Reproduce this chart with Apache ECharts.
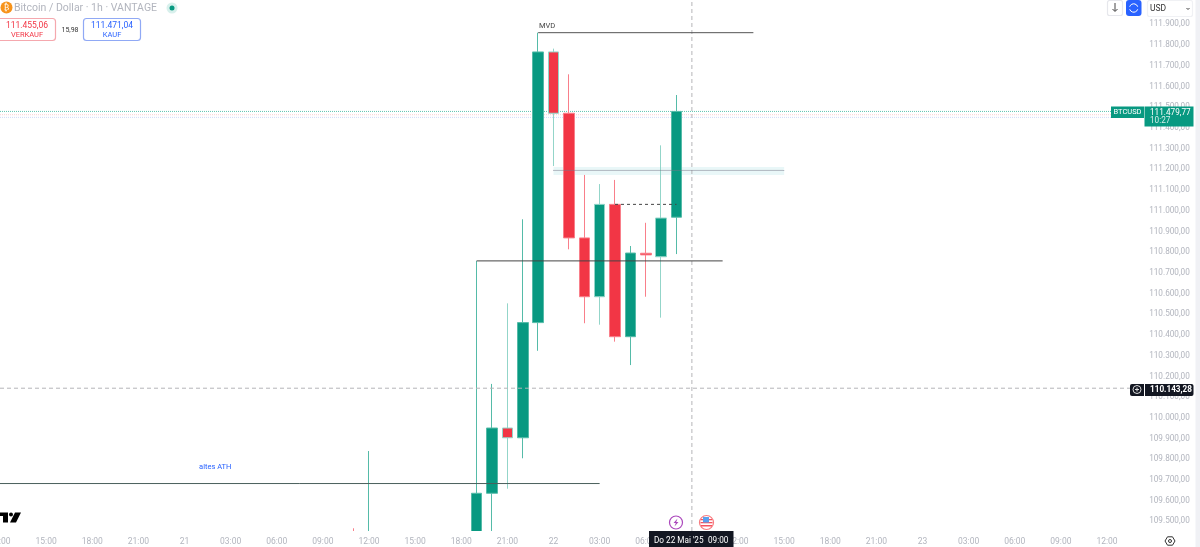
<!DOCTYPE html>
<html>
<head>
<meta charset="utf-8">
<style>html,body{margin:0;padding:0;background:#fff}#c{width:1200px;height:547px}</style>
<script src="https://cdn.jsdelivr.net/npm/echarts@6/dist/echarts.min.js"></script>
</head>
<body>
<div id="c"></div>
<script>
const hours = [
 '12:00','13:00','14:00','15:00','16:00','17:00','18:00','19:00','20:00','21:00','22:00','23:00',
 '21','01:00','02:00','03:00','04:00','05:00','06:00','07:00','08:00','09:00','10:00','11:00',
 '12:00','13:00','14:00','15:00','16:00','17:00','18:00','19:00','20:00','21:00','22:00','23:00',
 '22','01:00','02:00','03:00','04:00','05:00','06:00','07:00','08:00','09:00','10:00','11:00',
 '12:00','13:00','14:00','15:00','16:00','17:00','18:00','19:00','20:00','21:00','22:00','23:00',
 '23','01:00','02:00','03:00','04:00','05:00','06:00','07:00','08:00','09:00','10:00','11:00',
 '12:00','13:00','14:00'];
const priceTicks = [109500,109600,109700,109800,109900,110000,110100,110200,110300,110400,110500,110600,110700,110800,110900,111000,111100,111200,111300,111400,111500,111600,111700,111800,111900];

// [hour index, open, close, low, high]
const candles = [
 [23,109300,109250,109200,109467],
 [24,109000,109300,108900,109840],
 [31,109300,109636,109200,110758],
 [32,109636,109951,109400,110164],
 [33,109951,109904,109658,110553],
 [34,109904,110460,109805,110959],
 [35,110460,111767,110324,111860],
 [36,111767,111471,111216,111783],
 [37,111471,110869,110814,111659],
 [38,110869,110585,110457,111173],
 [39,110585,111031,110450,111129],
 [40,111031,110392,110368,111149],
 [41,110392,110796,110255,110830],
 [42,110795,110787,110585,110942],
 [43,110778,110965,110484,111316],
 [44,110969,111479.77,110791,111559]
];
const paleWickHours = [33,36,39,43];
const lastPrice = 111479.77, askPrice = 111464, bidPrice = 111451;
const crossPrice = 110143.28, crossHour = 45;
const mvdLine = [[35,111860],[49,111860]];
const highLine = [[31,110758],[47,110758]];
const athLine = [[0,109683],[39,109683]];
const dashLine = [[40,111031],[44,111031]];
const bandLine = [[36,111195],[51,111195]];
const bandRange = [[36,111211],[51,111173]];
const yMin = 109453.8, yMax = 112017.8;
const uiFont = 'Roboto';
const axisGrey = '#b2b5be';

const candleRows = hours.map((_, i) => {
  const c = candles.find(r => r[0] === i);
  if (!c) return '-';
  if (paleWickHours.includes(i)) {
    return {value:c.slice(1), itemStyle:{borderColor:'#93d5c9',borderColor0:'#f9b3ba'}};
  }
  return c.slice(1);
});

function seg(data, color, type, width, z, opacity){
  return {type:'line', data, symbol:'none', silent:true, animation:false, z:z||5,
    lineStyle:{color, type:type||'solid', width:width||1, opacity:opacity==null?1:opacity}};
}
function txt(x,y,text,size,fill,align,weight){
  return {type:'text', z:100, style:{x,y,text,fontSize:size,fill,fontFamily:uiFont,align:align||'left',verticalAlign:'middle',fontWeight:weight||'normal'}};
}
function box(x,y,w,h,fill,stroke,r){
  return {type:'rect', z:99, shape:{x,y,width:w,height:h,r:r||0}, style:{fill:fill,stroke:stroke||null,lineWidth:1.2}};
}
const deFmt = v => v.toLocaleString('de-DE',{minimumFractionDigits:2,maximumFractionDigits:2});

const chart = echarts.init(document.getElementById('c'),null,{renderer:'canvas'});
chart.setOption({
  animation:false,
  backgroundColor:'#fff',
  grid:{left:0,top:0,right:62.25,bottom:16,containLabel:false,outerBoundsMode:'none'},
  xAxis:{type:'category',data:hours,boundaryGap:false,z:60,
    axisLine:{show:false},axisTick:{show:false},splitLine:{show:false},
    axisLabel:{interval:i=>i%3===0,color:axisGrey,fontSize:8.5,fontFamily:uiFont,margin:6.5,hideOverlap:false,showMinLabel:true}},
  yAxis:{type:'value',position:'right',min:yMin,max:yMax,scale:true,
    axisLine:{show:false},axisTick:{show:false},splitLine:{show:false},
    axisLabel:{customValues:priceTicks,formatter:deFmt,color:axisGrey,fontSize:8.2,fontFamily:uiFont,align:'right',margin:52,padding:[3,0,0,0]}},
  series:[
    {type:'candlestick',data:candleRows,barWidth:11,clip:true,z:3,animation:false,silent:true,
      itemStyle:{color:'#089981',color0:'#F23645',borderColor:'#55bba8',borderColor0:'#f97f8a',borderWidth:1},
      emphasis:{disabled:true}},
    seg([[0,askPrice],[74,askPrice]],'#fbd0d4','dotted',1,2),
    seg([[0,bidPrice],[74,bidPrice]],'#d0daf9','dotted',1,2),
    seg([[0,lastPrice],[74,lastPrice]],'#5cc4b0','dotted',1,2),
    seg([[0,crossPrice],[74,crossPrice]],'#b5b5b8',[4,3],1,4),
    seg([[crossHour,yMin],[crossHour,yMax]],'#b5b5b8',[4,3],1,4),
    Object.assign(seg(mvdLine,'#555','solid',1,6),{
      markPoint:{symbol:'circle',symbolSize:1,itemStyle:{color:'transparent'},silent:true,animation:false,
        data:[{coord:[35,111892],label:{show:true,position:'inside',offset:[9,0],formatter:'MVD',color:'#444',fontSize:7.5,fontFamily:uiFont}}]}
    }),
    seg(highLine,'#444','solid',1,6),
    Object.assign(seg(athLine,'#4a5f5b','solid',1,6),{
      markPoint:{symbol:'circle',symbolSize:1,itemStyle:{color:'transparent'},silent:true,animation:false,
        data:[{coord:[14,109763],label:{show:true,position:'inside',formatter:'altes ATH',color:'#2962ff',fontSize:7.5,fontFamily:uiFont}}]}
    }),
    seg(dashLine,'#444',[3,3],1,6),
    Object.assign(seg(bandLine,'#778','dotted',1,7),{
      markArea:{silent:true,animation:false,itemStyle:{color:'rgba(120,205,210,0.16)'},
        data:[[{coord:bandRange[0]},{coord:bandRange[1]}]]}
    })
  ],
  graphic:[
    {type:'rect',z:50,shape:{x:0,y:531,width:1195,height:16},style:{fill:'#fff'}},
    {type:'rect',z:98,shape:{x:1195.5,y:0,width:4.5,height:547},style:{fill:'#f0f1f5'}},
    {type:'circle',z:99,shape:{cx:6.5,cy:7.5,r:6},style:{fill:'#f7931a'}},
    {type:'text',z:100,style:{x:6.5,y:8,text:'₿',fontSize:8,fill:'#fff',fontFamily:'DejaVu Sans',align:'center',verticalAlign:'middle'}},
    txt(14,8,'Bitcoin / Dollar · 1h · VANTAGE',10.5,'#b2b5be'),
    {type:'circle',z:99,shape:{cx:172,cy:8,r:5.5},style:{fill:'#d8f0ec'}},
    {type:'circle',z:100,shape:{cx:172,cy:8,r:2.5},style:{fill:'#089981'}},
    box(-3,18.5,58.5,22,'#fff','#f5a8ae',3),
    txt(27,26,'111.455,06',8.5,'#f23645','center'),
    txt(27,35,'VERKAUF',7.5,'#f23645','center'),
    txt(70,30,'15,98',7,'#333','center'),
    box(83.5,18.5,57,22,'#fff','#90a9f5',3),
    txt(112,26,'111.471,04',8.5,'#2962ff','center'),
    txt(112,35,'KAUF',7.5,'#2962ff','center'),
    box(1107.5,0.5,15,15,'#fff','#e6e7ec',2),
    {type:'polyline',z:100,shape:{points:[[1115,3],[1115,11]]},style:{stroke:'#444',lineWidth:1,fill:null}},
    {type:'polyline',z:100,shape:{points:[[1112.5,9],[1115,11.5],[1117.5,9]]},style:{stroke:'#444',lineWidth:1,fill:null}},
    box(1126,0,15.5,16,'#2962ff',null,3),
    {type:'arc',z:100,shape:{cx:1133.7,cy:8,r:4.2,startAngle:Math.PI*1.1,endAngle:Math.PI*1.9},style:{stroke:'#fff',lineWidth:1,fill:null}},
    {type:'arc',z:100,shape:{cx:1133.7,cy:8,r:4.2,startAngle:Math.PI*0.1,endAngle:Math.PI*0.9},style:{stroke:'#fff',lineWidth:1,fill:null}},
    box(1147.5,0.5,45,16,'#fff','#f0f1f4',2),
    txt(1150,9,'USD',8.5,'#333'),
    {type:'polyline',z:100,shape:{points:[[1186.5,8],[1188,9.5],[1189.5,8]]},style:{stroke:'#444',lineWidth:1,fill:null}},
    box(1111,106.5,33,11.5,'#089981'),
    txt(1127.5,112.5,'BTCUSD',7.5,'#fff','center'),
    box(1144.5,106.5,49,20,'#089981'),
    txt(1150,112.5,'111.479,77',8.2,'#fff'),
    txt(1150,121,'10:27',8.2,'#d5eee9'),
    box(1130,384,63.5,12,'#131722',null,2),
    {type:'circle',z:100,shape:{cx:1137,cy:389.5,r:4},style:{fill:'none',stroke:'#ddd',lineWidth:1}},
    {type:'polyline',z:100,shape:{points:[[1135,389.5],[1139,389.5]]},style:{stroke:'#ddd',lineWidth:1,fill:null}},
    {type:'polyline',z:100,shape:{points:[[1137,387.5],[1137,391.5]]},style:{stroke:'#ddd',lineWidth:1,fill:null}},
    {type:'polyline',z:100,shape:{points:[[1144.5,384],[1144.5,396]]},style:{stroke:'#fff',lineWidth:1,fill:null}},
    txt(1150,390,'110.143,28',8.2,'#fff','left','bold'),
    {type:'polygon',z:100,shape:{points:[[1165,541],[1167.5,536.8],[1172.5,536.8],[1175,541],[1172.5,545.2],[1167.5,545.2]]},style:{fill:'none',stroke:'#333',lineWidth:1}},
    {type:'circle',z:100,shape:{cx:1170,cy:541,r:1.5},style:{fill:'none',stroke:'#333',lineWidth:1}},
    box(649,531,84.5,16,'#131722'),
    txt(654,541,"Do 22 Mai '25",8.2,'#fff'),
    txt(708,541,'09:00',8.2,'#fff'),
    {type:'circle',z:99,shape:{cx:676,cy:522.5,r:6.5},style:{fill:'#fff',stroke:'#ab47bc',lineWidth:1.2}},
    {type:'polygon',z:100,shape:{points:[[677.5,518.5],[673.5,523],[675.8,523],[674.5,526.5],[678.5,522],[676.2,522]]},style:{fill:'#ab47bc'}},
    {type:'circle',z:99,shape:{cx:706.5,cy:522.5,r:7},style:{fill:'#fff',stroke:'#f77c80',lineWidth:1.2}},
    {type:'rect',z:100,shape:{x:701,y:519,width:11,height:1.3},style:{fill:'#f7525f'}},
    {type:'rect',z:100,shape:{x:700.5,y:522,width:12,height:1.3},style:{fill:'#f7525f'}},
    {type:'rect',z:100,shape:{x:701,y:525,width:11,height:1.5},style:{fill:'#f7525f'}},
    {type:'rect',z:101,shape:{x:703,y:517,width:6,height:5.5},style:{fill:'#5aa0ee'}},
    {type:'polygon',z:100,shape:{points:[[0,512.5],[8,512.5],[8,522.5],[3,522.5],[3,516],[0,516]]},style:{fill:'#000'}},
    {type:'circle',z:100,shape:{cx:11,cy:514.5,r:2},style:{fill:'#000'}},
    {type:'polygon',z:100,shape:{points:[[15,512.5],[21,512.5],[16,522.5],[10,522.5]]},style:{fill:'#000'}}
  ]
});
</script>
</body>
</html>
